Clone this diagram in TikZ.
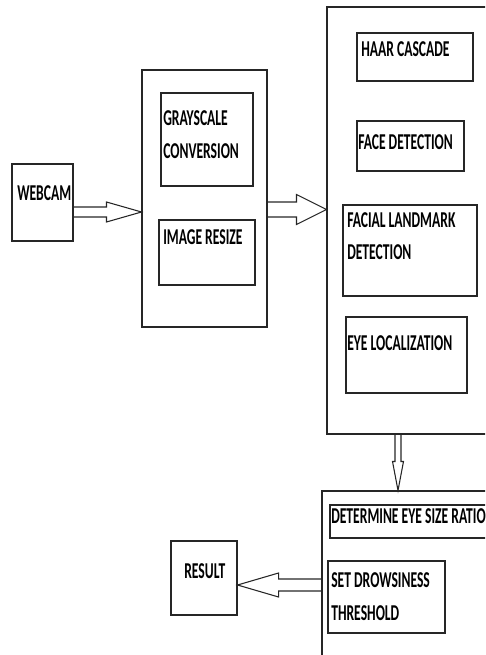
\documentclass[tikz,border=0pt]{standalone}
\usepackage{fontspec}
\newfontfamily\lblfont{Carlito}[FakeStretch=0.6]
\usetikzlibrary{fit,calc}

\begin{document}
\begin{tikzpicture}[x=0.75pt, y=-0.75pt,
    blk/.style={draw=black!85, line width=0.8pt, inner sep=0pt},
    lbl/.style={font=\lblfont\bfseries\fontsize{17}{24.5}\selectfont, inner sep=0pt,
                anchor=base west, align=left},
    barr/.style={draw=black!85, line width=0.8pt, line join=miter}
  ]
  \useasboundingbox (0,0) rectangle (485,655);
  \clip (0,0) rectangle (485,655);

  % input
  \node[blk, fit={(12,164) (73,241)}] (webcam) {};
  \node[lbl] (webcamT) at (17,201) {WEBCAM};

  % preprocessing
  \node[blk, fit={(142,70) (267,327)}] (prep) {};
  \node[blk, fit={(161,93) (253,186)}] (gray) {};
  \node[blk, fit={(159,220) (255,285)}] (resize) {};
  \node[lbl] (grayT) at (163,158.5) {GRAYSCALE\\CONVERSION};
  \node[lbl] (resizeT) at (163,245) {IMAGE RESIZE};

  % detection
  \node[blk, fit={(327,7) (495,434)}] (detect) {};
  \node[blk, fit={(357,33) (473,81)}] (haar) {};
  \node[blk, fit={(357,121) (464,171)}] (face) {};
  \node[blk, fit={(343,205) (477,296)}] (landmark) {};
  \node[blk, fit={(346,317) (467,393)}] (eye) {};
  \node[lbl] (haarT) at (361,57) {HAAR CASCADE};
  \node[lbl] (faceT) at (358,150) {FACE DETECTION};
  \node[lbl] (landmarkT) at (347,260) {FACIAL LANDMARK\\DETECTION};
  \node[lbl] (eyeT) at (347,350) {EYE LOCALIZATION};

  % decision
  \node[blk, fit={(322,491) (500,670)}] (decide) {};
  \node[blk, fit={(330,505) (495,538)}] (ratio) {};
  \node[blk, fit={(328,561) (445,633)}] (thresh) {};
  \node[lbl] (ratioT) at (331,523) {DETERMINE EYE SIZE RATIO};
  \node[lbl] (threshT) at (331,620) {SET DROWSINESS\\THRESHOLD};

  % output
  \node[blk, fit={(171,541) (237,615)}] (result) {};
  \node[lbl] (resultT) at (184,578) {RESULT};

  % block arrows
  \coordinate (a1) at (webcam.east |- 0,212);
  \coordinate (b1) at (prep.west |- 0,212);
  \draw[barr] ($(a1)+(0,-5)$) -- ($(b1)+(-35,-5)$) -- ($(b1)+(-35,-10)$) -- (b1)
              -- ($(b1)+(-35,10)$) -- ($(b1)+(-35,5)$) -- ($(a1)+(0,5)$);

  \coordinate (a2) at (prep.east |- 0,209.5);
  \coordinate (b2) at (detect.west |- 0,209.5);
  \draw[barr] ($(a2)+(0,-7.5)$) -- ($(b2)+(-30,-7.5)$) -- ($(b2)+(-30,-15)$) -- (b2)
              -- ($(b2)+(-30,15)$) -- ($(b2)+(-30,7.5)$) -- ($(a2)+(0,7.5)$);

  \coordinate (a3) at (detect.south -| 398,0);
  \coordinate (b3) at (decide.north -| 398,0);
  \draw[barr] ($(a3)+(-3,0)$) -- ($(b3)+(-3,-29)$) -- ($(b3)+(-5.5,-29)$) -- (b3)
              -- ($(b3)+(5.5,-29)$) -- ($(b3)+(3,-29)$) -- ($(a3)+(3,0)$);

  \coordinate (a4) at (decide.west |- 0,585);
  \coordinate (b4) at (result.east |- 0,585);
  \draw[barr] ($(a4)+(0,-6)$) -- ($(b4)+(41,-6)$) -- ($(b4)+(41,-12)$) -- (b4)
              -- ($(b4)+(41,12)$) -- ($(b4)+(41,6)$) -- ($(a4)+(0,6)$);
\end{tikzpicture}
\end{document}
